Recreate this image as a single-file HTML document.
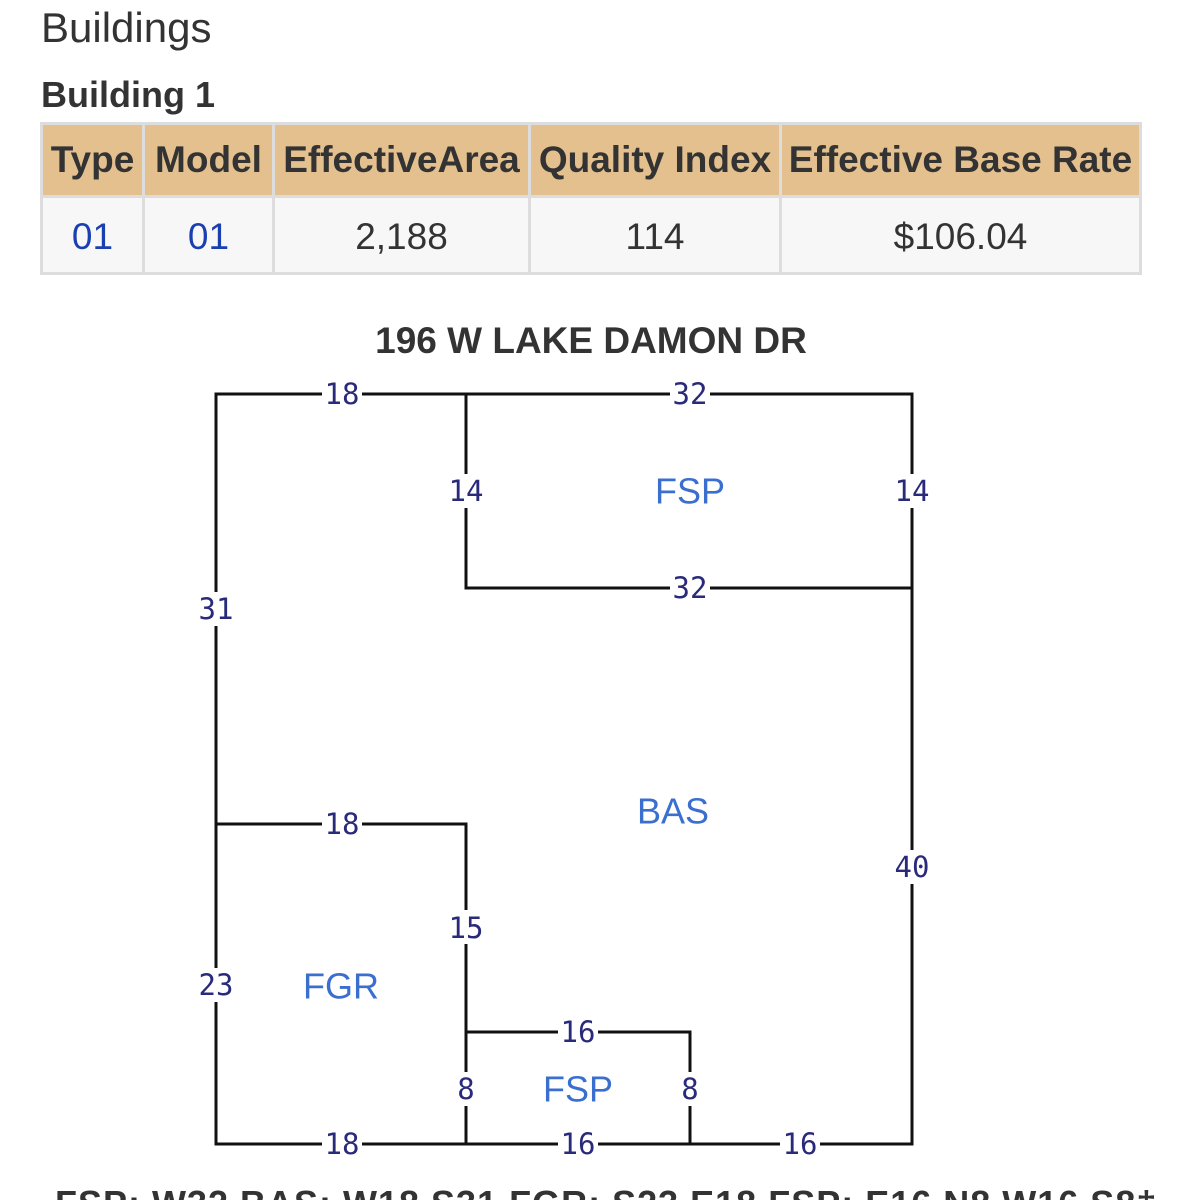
<!DOCTYPE html>
<html><head><meta charset="utf-8"><style>
html,body{margin:0;width:1182px;height:1200px;overflow:hidden}
body{background:#fff;font-family:"Liberation Sans",sans-serif;position:relative}
.h1{position:absolute;left:41px;top:4px;font-size:42px;color:#333}
.h2{position:absolute;left:41px;top:74px;font-size:36px;font-weight:bold;color:#333}
table{position:absolute;left:40px;top:122px;border-collapse:collapse;width:1102px;table-layout:fixed}
td,th{border:3px solid #ddd;text-align:center;font-size:37px;padding:0;white-space:nowrap;overflow:hidden}
th{background:#e4c08f;color:#333;height:70px;font-weight:bold}
td{background:#f7f7f7;color:#333;height:70px;padding-top:4px}
td.l{color:#1a3fb0}
.t{position:absolute;left:0;width:1182px;text-align:center;top:320px;font-size:37px;font-weight:bold;color:#333}
.clip{position:absolute;left:0;top:1190px;width:1182px;height:10px;overflow:hidden}
.b{position:absolute;left:55px;top:-6px;font-size:36px;line-height:40px;font-weight:bold;color:#333;white-space:nowrap;letter-spacing:1px}
</style></head><body>
<div class="h1">Buildings</div>
<div class="h2">Building 1</div>
<table><colgroup><col style="width:102px"><col style="width:130px"><col style="width:256px"><col style="width:251px"><col></colgroup>
<tr><th>Type</th><th>Model</th><th>EffectiveArea</th><th>Quality Index</th><th>Effective Base Rate</th></tr>
<tr><td class="l">01</td><td class="l">01</td><td>2,188</td><td>114</td><td>$106.04</td></tr></table>
<div class="t">196 W LAKE DAMON DR</div>
<div class="clip"><div class="b">FSP: W32 BAS: W18 S31 FGR: S23 E18 FSP: E16 N8 W16 S8‡</div></div>
<svg width="1182" height="1200" style="position:absolute;left:0;top:0">
<g stroke="#111" stroke-width="3" fill="none">
<path d="M216 394H912V1144H216Z"/>
<path d="M466 394V588H912"/>
<path d="M216 824H466V1144"/>
<path d="M466 1032H690V1144"/>
</g>
<g font-family="DejaVu Sans Mono,monospace" font-size="29" fill="#2a2a7a" text-anchor="middle" dominant-baseline="central">
<g fill="#fff"><rect x="322" y="378" width="40" height="32"/><rect x="670" y="378" width="40" height="32"/><rect x="446" y="474" width="40" height="34"/><rect x="892" y="474" width="40" height="34"/><rect x="670" y="572" width="40" height="32"/><rect x="196" y="592" width="40" height="34"/><rect x="322" y="808" width="40" height="32"/><rect x="892" y="850" width="40" height="34"/><rect x="446" y="910" width="40" height="34"/><rect x="196" y="968" width="40" height="34"/><rect x="558" y="1016" width="40" height="32"/><rect x="454" y="1072" width="24" height="34"/><rect x="678" y="1072" width="24" height="34"/><rect x="322" y="1128" width="40" height="32"/><rect x="558" y="1128" width="40" height="32"/><rect x="780" y="1128" width="40" height="32"/></g>
<text x="342" y="394">18</text><text x="690" y="394">32</text><text x="466" y="491">14</text><text x="912" y="491">14</text><text x="690" y="588">32</text><text x="216" y="609">31</text><text x="342" y="824">18</text><text x="912" y="867">40</text><text x="466" y="928">15</text><text x="216" y="985">23</text><text x="578" y="1032">16</text><text x="466" y="1089">8</text><text x="690" y="1089">8</text><text x="342" y="1144">18</text><text x="578" y="1144">16</text><text x="800" y="1144">16</text>
</g>
<g font-family="Liberation Sans,sans-serif" font-size="36" fill="#3a6fd0" text-anchor="middle" dominant-baseline="central">
<text x="690" y="491">FSP</text><text x="673" y="811">BAS</text><text x="341" y="986">FGR</text><text x="578" y="1089">FSP</text>
</g>
</svg>
</body></html>
